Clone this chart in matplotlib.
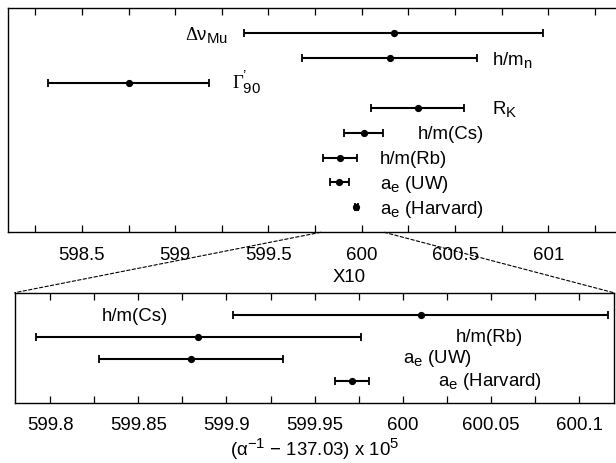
import matplotlib
matplotlib.use("Agg")
import matplotlib.pyplot as plt
from matplotlib.patches import ConnectionPatch
from matplotlib.ticker import MultipleLocator
import numpy as np

try:
    import matplotlib._mathtext as _mt
    _mt.SHRINK_FACTOR = 0.8
except Exception:
    pass

plt.rcParams['font.family'] = ['Liberation Sans', 'DejaVu Sans']
plt.rcParams['mathtext.fontset'] = 'custom'
plt.rcParams['mathtext.rm'] = 'Liberation Sans'
plt.rcParams['mathtext.it'] = 'Liberation Sans:italic'
plt.rcParams['mathtext.cal'] = 'Liberation Serif'
plt.rcParams['mathtext.default'] = 'regular'

# ---- data: top panel (all determinations) ----
top_labels = [r'$\mathcal{Δ}ν_{Mu}$', r'$h/m_n$', r"$\mathcal{Γ}^{’}_{90}$", r'$R_K$',
              'h/m(Cs)', 'h/m(Rb)', r'$a_e$ (UW)', r'$a_e$ (Harvard)']
top_values = [600.17, 600.15, 598.75, 600.30, 600.010, 599.884, 599.880, 599.971]
top_errors = [0.80, 0.47, 0.43, 0.25, 0.106, 0.092, 0.052, 0.0096]

# ---- data: bottom panel (zoom x10) ----
bot_labels = ['h/m(Cs)', 'h/m(Rb)', r'$a_e$ (UW)', r'$a_e$ (Harvard)']
bot_values = [600.010, 599.884, 599.880, 599.971]
bot_errors = [0.106, 0.092, 0.052, 0.0096]

top_xticks = [598.5, 599, 599.5, 600, 600.5, 601]
top_xticklabels = ['598.5', '599', '599.5', '600', '600.5', '601']
bot_xticks = [599.8, 599.85, 599.9, 599.95, 600, 600.05, 600.1]
bot_xticklabels = ['599.8', '599.85', '599.9', '599.95', '600', '600.05', '600.1']

# label anchor x positions (layout)
top_label_x = [599.05, 600.70, 599.305, 600.70, 600.298, 600.096, 600.096, 600.096]
bot_label_x = [599.8293, 600.0297, 600.0002, 600.0197]
bot_label_dy = [0.0, 0.05, 0.1, 0.05]

FS = 13.4
W, H = 616, 463
fig = plt.figure(figsize=(W / 100, H / 100), dpi=100)

ax1 = fig.add_axes([8 / W, 1 - 232.3 / H, (618 - 8) / W, (232.3 - 8) / H])
ax2 = fig.add_axes([14.7 / W, 1 - 402.7 / H, (613.7 - 14.7) / W, 110 / H])

ebkw = dict(fmt='o', color='black', ecolor='black', markersize=4.2,
            elinewidth=1.5, capsize=2.6, capthick=1.3)

n1 = len(top_values)
y1 = np.arange(n1, 0, -1)
ax1.errorbar(top_values, y1, xerr=top_errors, **ebkw)
ax1.set_ylim(0, n1 + 1)
ax1.set_xlim(598.104, 601.373)
for lab, lx, yy in zip(top_labels, top_label_x, y1):
    ax1.annotate(lab, xy=(lx, yy), xytext=(0, -4.8), textcoords='offset points',
                 ha='left', va='baseline', fontsize=FS)

n2 = len(bot_values)
y2 = np.arange(n2, 0, -1)
ax2.errorbar(bot_values, y2, xerr=bot_errors, **ebkw)
ax2.set_ylim(0, n2 + 1)
ax2.set_xlim(599.78, 600.1195)
for lab, lx, yy, dy in zip(bot_labels, bot_label_x, y2, bot_label_dy):
    ax2.annotate(lab, xy=(lx, yy + dy), xytext=(0, -4.8), textcoords='offset points',
                 ha='left', va='baseline', fontsize=FS)

for ax, ticks, labels, minor in ((ax1, top_xticks, top_xticklabels, 0.25),
                                 (ax2, bot_xticks, bot_xticklabels, 0.025)):
    ax.set_xticks(ticks)
    ax.set_xticklabels(labels)
    ax.xaxis.set_minor_locator(MultipleLocator(minor))
    ax.set_yticks([])
    ax.tick_params(axis='x', which='both', direction='in', top=True, bottom=True,
                   length=5, width=0.9, labelsize=FS, pad=10.5)
    for s in ax.spines.values():
        s.set_linewidth(1.0)

ax2.set_xlabel(r'($\alpha^{-1}$ $-$ 137.03) x 10$^5$', fontsize=FS, labelpad=1.5)

fig.text(349 / W, 1 - 277 / H, 'X10', ha='center', va='center', fontsize=FS)

xl = ax2.get_xlim()
for xa, xb in ((xl[0], 0.0), (xl[1], 1.0)):
    con = ConnectionPatch(xyA=(xa, 0), coordsA=ax1.transData,
                          xyB=(xb, 1), coordsB=ax2.transAxes,
                          linestyle=(0, (3, 2)), linewidth=0.8, color='black')
    fig.add_artist(con)

fig.savefig('out.png', dpi=100)
